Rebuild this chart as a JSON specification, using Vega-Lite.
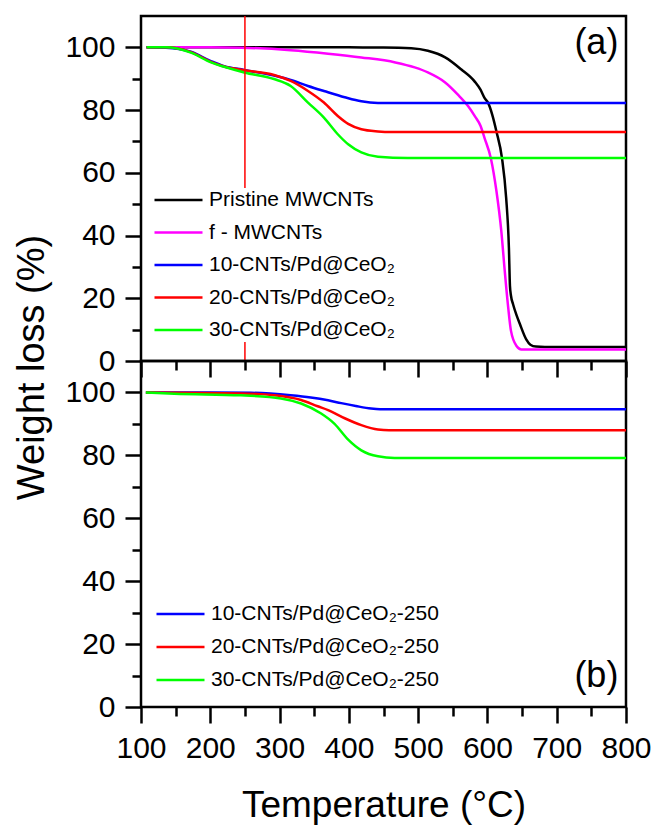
{
  "$schema": "https://vega.github.io/schema/vega-lite/v6.json",
  "padding": {"left": 11, "top": 14, "right": 5, "bottom": 0},
  "bounds": "flush",
  "spacing": 0,
  "config": {
    "font": "Liberation Sans",
    "view": {"stroke": "black", "strokeWidth": 2.5},
    "axis": {
      "domain": false,
      "grid": false,
      "tickColor": "black",
      "tickWidth": 2.5,
      "labelColor": "black",
      "titleColor": "black",
      "labelFont": "Liberation Sans",
      "titleFont": "Liberation Sans",
      "labelFontSize": 30,
      "titleFontSize": 38,
      "titleFontWeight": "normal",
      "labelPadding": 10,
      "labelFlush": false,
      "labelOverlap": false
    },
    "legend": {
      "orient": "none",
      "symbolType": "stroke",
      "symbolSize": 2304,
      "symbolStrokeWidth": 2.5,
      "clipHeight": 20,
      "labelFontSize": 21,
      "labelFont": "Liberation Sans",
      "labelColor": "black",
      "labelOffset": 5,
      "labelLimit": 0,
      "fillColor": "white",
      "padding": 2,
      "title": null
    }
  },
  "datasets": {
    "a": [
      {"s": "Pristine MWCNTs", "T": 108, "w": 100},
      {"s": "Pristine MWCNTs", "T": 200, "w": 100},
      {"s": "Pristine MWCNTs", "T": 300, "w": 100},
      {"s": "Pristine MWCNTs", "T": 400, "w": 100},
      {"s": "Pristine MWCNTs", "T": 450, "w": 99.95},
      {"s": "Pristine MWCNTs", "T": 490, "w": 99.7},
      {"s": "Pristine MWCNTs", "T": 514, "w": 98.9},
      {"s": "Pristine MWCNTs", "T": 539, "w": 96.8},
      {"s": "Pristine MWCNTs", "T": 562, "w": 93.0},
      {"s": "Pristine MWCNTs", "T": 582, "w": 89.0},
      {"s": "Pristine MWCNTs", "T": 590, "w": 86.5},
      {"s": "Pristine MWCNTs", "T": 596, "w": 83.8},
      {"s": "Pristine MWCNTs", "T": 601, "w": 82.3},
      {"s": "Pristine MWCNTs", "T": 607, "w": 78.5},
      {"s": "Pristine MWCNTs", "T": 613, "w": 73.2},
      {"s": "Pristine MWCNTs", "T": 621, "w": 64.7},
      {"s": "Pristine MWCNTs", "T": 627, "w": 52.1},
      {"s": "Pristine MWCNTs", "T": 631, "w": 36.1},
      {"s": "Pristine MWCNTs", "T": 632.5, "w": 24.0},
      {"s": "Pristine MWCNTs", "T": 634, "w": 20.8},
      {"s": "Pristine MWCNTs", "T": 637, "w": 18.1},
      {"s": "Pristine MWCNTs", "T": 642, "w": 14.6},
      {"s": "Pristine MWCNTs", "T": 647, "w": 11.7},
      {"s": "Pristine MWCNTs", "T": 656, "w": 6.9},
      {"s": "Pristine MWCNTs", "T": 662, "w": 5.2},
      {"s": "Pristine MWCNTs", "T": 670, "w": 4.6},
      {"s": "Pristine MWCNTs", "T": 683, "w": 4.5},
      {"s": "Pristine MWCNTs", "T": 800, "w": 4.5},
      {"s": "f - MWCNTs", "T": 108, "w": 100},
      {"s": "f - MWCNTs", "T": 200, "w": 100},
      {"s": "f - MWCNTs", "T": 244, "w": 99.9},
      {"s": "f - MWCNTs", "T": 316, "w": 99.1},
      {"s": "f - MWCNTs", "T": 370, "w": 98.0},
      {"s": "f - MWCNTs", "T": 418, "w": 96.8},
      {"s": "f - MWCNTs", "T": 467, "w": 95.2},
      {"s": "f - MWCNTs", "T": 495, "w": 93.6},
      {"s": "f - MWCNTs", "T": 514, "w": 92.0},
      {"s": "f - MWCNTs", "T": 539, "w": 88.8},
      {"s": "f - MWCNTs", "T": 557, "w": 85.0},
      {"s": "f - MWCNTs", "T": 572, "w": 81.3},
      {"s": "f - MWCNTs", "T": 582, "w": 78.0},
      {"s": "f - MWCNTs", "T": 590, "w": 75.0},
      {"s": "f - MWCNTs", "T": 596, "w": 71.0},
      {"s": "f - MWCNTs", "T": 605, "w": 64.6},
      {"s": "f - MWCNTs", "T": 613, "w": 54.2},
      {"s": "f - MWCNTs", "T": 620, "w": 41.5},
      {"s": "f - MWCNTs", "T": 625, "w": 28.7},
      {"s": "f - MWCNTs", "T": 630, "w": 17.0},
      {"s": "f - MWCNTs", "T": 634, "w": 9.6},
      {"s": "f - MWCNTs", "T": 642, "w": 4.8},
      {"s": "f - MWCNTs", "T": 649, "w": 3.7},
      {"s": "f - MWCNTs", "T": 800, "w": 3.7},
      {"s": "10-CNTs/Pd@CeO₂", "T": 108, "w": 100},
      {"s": "10-CNTs/Pd@CeO₂", "T": 136, "w": 99.9},
      {"s": "10-CNTs/Pd@CeO₂", "T": 172, "w": 98.6},
      {"s": "10-CNTs/Pd@CeO₂", "T": 201, "w": 95.6},
      {"s": "10-CNTs/Pd@CeO₂", "T": 220, "w": 94.0},
      {"s": "10-CNTs/Pd@CeO₂", "T": 249, "w": 92.8},
      {"s": "10-CNTs/Pd@CeO₂", "T": 292, "w": 91.0},
      {"s": "10-CNTs/Pd@CeO₂", "T": 316, "w": 89.6},
      {"s": "10-CNTs/Pd@CeO₂", "T": 341, "w": 87.7},
      {"s": "10-CNTs/Pd@CeO₂", "T": 364, "w": 86.1},
      {"s": "10-CNTs/Pd@CeO₂", "T": 394, "w": 84.1},
      {"s": "10-CNTs/Pd@CeO₂", "T": 418, "w": 82.8},
      {"s": "10-CNTs/Pd@CeO₂", "T": 442, "w": 82.3},
      {"s": "10-CNTs/Pd@CeO₂", "T": 800, "w": 82.3},
      {"s": "20-CNTs/Pd@CeO₂", "T": 108, "w": 100},
      {"s": "20-CNTs/Pd@CeO₂", "T": 136, "w": 100},
      {"s": "20-CNTs/Pd@CeO₂", "T": 172, "w": 98.5},
      {"s": "20-CNTs/Pd@CeO₂", "T": 201, "w": 95.4},
      {"s": "20-CNTs/Pd@CeO₂", "T": 220, "w": 93.9},
      {"s": "20-CNTs/Pd@CeO₂", "T": 249, "w": 92.7},
      {"s": "20-CNTs/Pd@CeO₂", "T": 292, "w": 91.2},
      {"s": "20-CNTs/Pd@CeO₂", "T": 316, "w": 89.3},
      {"s": "20-CNTs/Pd@CeO₂", "T": 341, "w": 86.1},
      {"s": "20-CNTs/Pd@CeO₂", "T": 364, "w": 82.4},
      {"s": "20-CNTs/Pd@CeO₂", "T": 384, "w": 78.1},
      {"s": "20-CNTs/Pd@CeO₂", "T": 399, "w": 75.6},
      {"s": "20-CNTs/Pd@CeO₂", "T": 418, "w": 73.9},
      {"s": "20-CNTs/Pd@CeO₂", "T": 442, "w": 73.2},
      {"s": "20-CNTs/Pd@CeO₂", "T": 461, "w": 73.0},
      {"s": "20-CNTs/Pd@CeO₂", "T": 800, "w": 73.0},
      {"s": "30-CNTs/Pd@CeO₂", "T": 108, "w": 100},
      {"s": "30-CNTs/Pd@CeO₂", "T": 136, "w": 100},
      {"s": "30-CNTs/Pd@CeO₂", "T": 172, "w": 98.3},
      {"s": "30-CNTs/Pd@CeO₂", "T": 201, "w": 95.2},
      {"s": "30-CNTs/Pd@CeO₂", "T": 220, "w": 93.8},
      {"s": "30-CNTs/Pd@CeO₂", "T": 249, "w": 92.0},
      {"s": "30-CNTs/Pd@CeO₂", "T": 292, "w": 89.9},
      {"s": "30-CNTs/Pd@CeO₂", "T": 316, "w": 87.7},
      {"s": "30-CNTs/Pd@CeO₂", "T": 341, "w": 82.4},
      {"s": "30-CNTs/Pd@CeO₂", "T": 364, "w": 77.6},
      {"s": "30-CNTs/Pd@CeO₂", "T": 384, "w": 72.3},
      {"s": "30-CNTs/Pd@CeO₂", "T": 399, "w": 69.1},
      {"s": "30-CNTs/Pd@CeO₂", "T": 418, "w": 66.5},
      {"s": "30-CNTs/Pd@CeO₂", "T": 442, "w": 65.1},
      {"s": "30-CNTs/Pd@CeO₂", "T": 485, "w": 64.7},
      {"s": "30-CNTs/Pd@CeO₂", "T": 800, "w": 64.7}
    ],
    "b": [
      {"s": "10-CNTs/Pd@CeO₂-250", "T": 107, "w": 100},
      {"s": "10-CNTs/Pd@CeO₂-250", "T": 200, "w": 100},
      {"s": "10-CNTs/Pd@CeO₂-250", "T": 259, "w": 99.9},
      {"s": "10-CNTs/Pd@CeO₂-250", "T": 316, "w": 99.1},
      {"s": "10-CNTs/Pd@CeO₂-250", "T": 345, "w": 98.4},
      {"s": "10-CNTs/Pd@CeO₂-250", "T": 370, "w": 97.5},
      {"s": "10-CNTs/Pd@CeO₂-250", "T": 389, "w": 96.6},
      {"s": "10-CNTs/Pd@CeO₂-250", "T": 410, "w": 95.7},
      {"s": "10-CNTs/Pd@CeO₂-250", "T": 432, "w": 94.9},
      {"s": "10-CNTs/Pd@CeO₂-250", "T": 445, "w": 94.7},
      {"s": "10-CNTs/Pd@CeO₂-250", "T": 800, "w": 94.7},
      {"s": "20-CNTs/Pd@CeO₂-250", "T": 107, "w": 100},
      {"s": "20-CNTs/Pd@CeO₂-250", "T": 244, "w": 99.7},
      {"s": "20-CNTs/Pd@CeO₂-250", "T": 292, "w": 99.1},
      {"s": "20-CNTs/Pd@CeO₂-250", "T": 331, "w": 97.6},
      {"s": "20-CNTs/Pd@CeO₂-250", "T": 355, "w": 95.6},
      {"s": "20-CNTs/Pd@CeO₂-250", "T": 370, "w": 94.4},
      {"s": "20-CNTs/Pd@CeO₂-250", "T": 394, "w": 91.8},
      {"s": "20-CNTs/Pd@CeO₂-250", "T": 418, "w": 89.6},
      {"s": "20-CNTs/Pd@CeO₂-250", "T": 442, "w": 88.2},
      {"s": "20-CNTs/Pd@CeO₂-250", "T": 458, "w": 88.0},
      {"s": "20-CNTs/Pd@CeO₂-250", "T": 800, "w": 88.0},
      {"s": "30-CNTs/Pd@CeO₂-250", "T": 107, "w": 100},
      {"s": "30-CNTs/Pd@CeO₂-250", "T": 148, "w": 99.6},
      {"s": "30-CNTs/Pd@CeO₂-250", "T": 244, "w": 99.1},
      {"s": "30-CNTs/Pd@CeO₂-250", "T": 302, "w": 98.1},
      {"s": "30-CNTs/Pd@CeO₂-250", "T": 331, "w": 96.5},
      {"s": "30-CNTs/Pd@CeO₂-250", "T": 360, "w": 93.3},
      {"s": "30-CNTs/Pd@CeO₂-250", "T": 379, "w": 90.1},
      {"s": "30-CNTs/Pd@CeO₂-250", "T": 399, "w": 85.0},
      {"s": "30-CNTs/Pd@CeO₂-250", "T": 418, "w": 81.6},
      {"s": "30-CNTs/Pd@CeO₂-250", "T": 442, "w": 79.7},
      {"s": "30-CNTs/Pd@CeO₂-250", "T": 466, "w": 79.2},
      {"s": "30-CNTs/Pd@CeO₂-250", "T": 800, "w": 79.2}
    ]
  },
  "vconcat": [
    {
      "width": 485,
      "height": 345,
      "encoding": {
        "x": {
          "field": "T", "type": "quantitative",
          "scale": {"domain": [100, 800], "nice": false, "zero": false},
          "axis": {
            "orient": "bottom",
            "values": [100, 150, 200, 250, 300, 350, 400, 450, 500, 550, 600, 650, 700, 750, 800],
            "labels": false,
            "title": null,
            "tickSize": {"condition": {"test": "datum.value % 100 === 0", "value": 16}, "value": 9}
          }
        },
        "y": {
          "field": "w", "type": "quantitative",
          "scale": {"domain": [0, 110], "nice": false, "zero": false},
          "axis": {
            "values": [0, 10, 20, 30, 40, 50, 60, 70, 80, 90, 100],
            "labelExpr": "datum.value % 20 === 0 ? datum.label : ''",
            "tickSize": {"condition": {"test": "datum.value % 20 === 0", "value": 16}, "value": 9},
            "title": "Weight loss (%)",
            "titleX": -90,
            "titleY": 351,
            "titleAngle": -90,
            "titleBaseline": "bottom",
            "titleAlign": "center"
          }
        }
      },
      "layer": [
        {
          "data": {"name": "a"},
          "mark": {"type": "line", "strokeWidth": 2.5, "interpolate": "monotone"},
          "encoding": {
            "color": {
              "field": "s", "type": "nominal",
              "scale": {
                "domain": ["Pristine MWCNTs", "f - MWCNTs", "10-CNTs/Pd@CeO₂", "20-CNTs/Pd@CeO₂", "30-CNTs/Pd@CeO₂"],
                "range": ["#000000", "#FF00FF", "#0000FF", "#FF0000", "#00FF00"]
              },
              "legend": {"legendX": 10, "legendY": 172, "rowPadding": 11.5}
            }
          }
        },
        {
          "data": {"values": [{"T": 250, "w": 0, "w2": 110}]},
          "mark": {"type": "rule", "color": "#FF0000", "strokeWidth": 1.5},
          "encoding": {"y2": {"field": "w2"}}
        },
        {
          "data": {"values": [{"T": 789, "w": 101.5, "label": "(a)"}]},
          "mark": {"type": "text", "align": "right", "baseline": "middle", "fontSize": 36, "color": "black"},
          "encoding": {"text": {"field": "label"}}
        }
      ]
    },
    {
      "width": 485,
      "height": 346,
      "encoding": {
        "x": {
          "field": "T", "type": "quantitative",
          "scale": {"domain": [100, 800], "nice": false, "zero": false},
          "axis": {
            "orient": "bottom",
            "values": [100, 150, 200, 250, 300, 350, 400, 450, 500, 550, 600, 650, 700, 750, 800],
            "labelExpr": "datum.value % 100 === 0 ? datum.label : ''",
            "tickSize": {"condition": {"test": "datum.value % 100 === 0", "value": 16}, "value": 9},
            "title": "Temperature (°C)",
            "titleFontSize": 37,
            "titlePadding": 24
          }
        },
        "y": {
          "field": "w", "type": "quantitative",
          "scale": {"domain": [0, 110], "nice": false, "zero": false},
          "axis": {
            "values": [0, 10, 20, 30, 40, 50, 60, 70, 80, 90, 100],
            "labelExpr": "datum.value % 20 === 0 ? datum.label : ''",
            "tickSize": {"condition": {"test": "datum.value % 20 === 0", "value": 16}, "value": 9},
            "title": null
          }
        }
      },
      "layer": [
        {
          "data": {"name": "b"},
          "mark": {"type": "line", "strokeWidth": 2.5, "interpolate": "monotone"},
          "encoding": {
            "color": {
              "field": "s", "type": "nominal",
              "scale": {
                "domain": ["10-CNTs/Pd@CeO₂-250", "20-CNTs/Pd@CeO₂-250", "30-CNTs/Pd@CeO₂-250"],
                "range": ["#0000FF", "#FF0000", "#00FF00"]
              },
              "legend": {"legendX": 12, "legendY": 241, "rowPadding": 12}
            }
          }
        },
        {
          "data": {"values": [{"T": 789, "w": 10, "label": "(b)"}]},
          "mark": {"type": "text", "align": "right", "baseline": "middle", "fontSize": 36, "color": "black"},
          "encoding": {"text": {"field": "label"}}
        }
      ]
    }
  ],
  "resolve": {"scale": {"color": "independent"}, "legend": {"color": "independent"}}
}
